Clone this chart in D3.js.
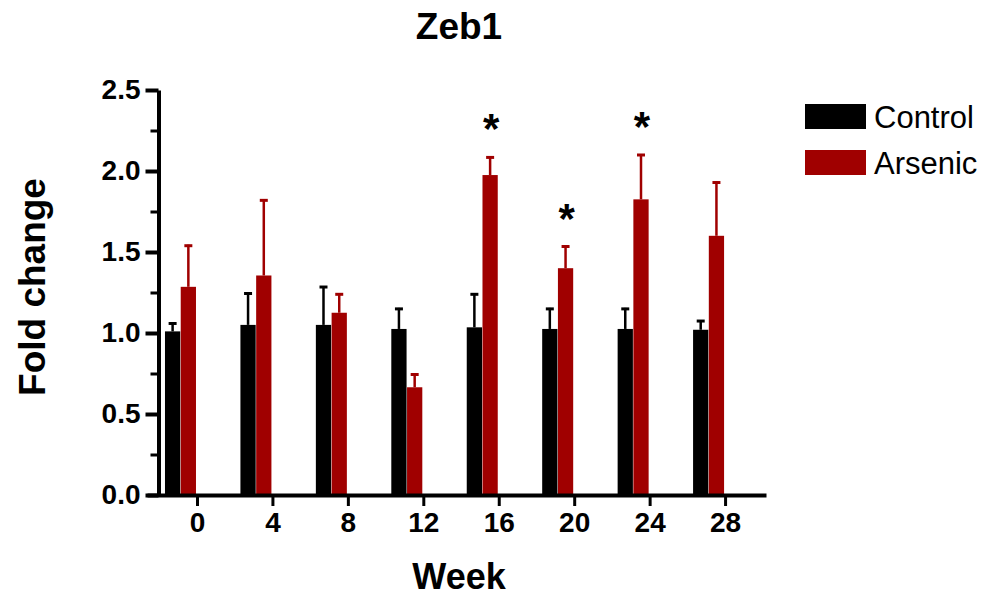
<!DOCTYPE html>
<html>
<head>
<meta charset="utf-8">
<script src="https://cdn.jsdelivr.net/npm/d3@7"></script>
<style>
  html, body { margin: 0; padding: 0; background: #fff; }
  svg { display: block; font-family: Arial, "Liberation Sans", sans-serif; }
</style>
</head>
<body>
<svg id="chart" width="989" height="599"></svg>
<script>
// Zeb1 expression over time, mean fold change with upper SEM whiskers
const weeks = [0, 4, 8, 12, 16, 20, 24, 28];
const seriesNames = ["Control", "Arsenic"];
const controlMean = [1.01, 1.05, 1.05, 1.025, 1.035, 1.025, 1.025, 1.02];
const controlErr  = [0.055, 0.20, 0.24, 0.13, 0.21, 0.13, 0.13, 0.06];
const arsenicMean = [1.285, 1.355, 1.125, 0.665, 1.975, 1.40, 1.825, 1.60];
const arsenicErr  = [0.26, 0.47, 0.12, 0.085, 0.115, 0.14, 0.28, 0.335];
const significant = [false, false, false, false, true, true, true, false];
const yTicks = [0, 0.5, 1.0, 1.5, 2.0, 2.5];
const yMinorTicks = [0.25, 0.75, 1.25, 1.75, 2.25];

const colors = { Control: "#000000", Arsenic: "#a00000" };

const svg = d3.select("#chart");

const x = d3.scaleLinear().domain([-2.65, 30.17]).range([147, 766]);
const y = d3.scaleLinear().domain([0, 2.5]).range([495, 90]);
// bars sit to the left of each week tick
const sub = d3.scaleBand().domain(seriesNames).range([-32, -1]).paddingInner(0.03);

const rows = weeks.map((w, i) => ({
  week: w,
  sig: significant[i],
  values: [
    { name: "Control", mean: controlMean[i], err: controlErr[i] },
    { name: "Arsenic", mean: arsenicMean[i], err: arsenicErr[i] }
  ]
}));

// bars
const groups = svg.append("g").selectAll("g").data(rows).join("g")
  .attr("transform", d => `translate(${x(d.week)},0)`);

groups.selectAll("rect").data(d => d.values).join("rect")
  .attr("x", d => sub(d.name))
  .attr("width", sub.bandwidth())
  .attr("y", d => y(d.mean))
  .attr("height", d => y(0) - y(d.mean))
  .attr("fill", d => colors[d.name]);

// error whiskers (upper only)
groups.selectAll("line.whisker").data(d => d.values).join("line")
  .attr("class", "whisker")
  .attr("x1", d => sub(d.name) + sub.bandwidth() / 2)
  .attr("x2", d => sub(d.name) + sub.bandwidth() / 2)
  .attr("y1", d => y(d.mean))
  .attr("y2", d => y(d.mean + d.err))
  .attr("stroke", d => colors[d.name])
  .attr("stroke-width", 2.5);

groups.selectAll("line.cap").data(d => d.values).join("line")
  .attr("class", "cap")
  .attr("x1", d => sub(d.name) + sub.bandwidth() / 2 - 4)
  .attr("x2", d => sub(d.name) + sub.bandwidth() / 2 + 4)
  .attr("y1", d => y(d.mean + d.err) + 1)
  .attr("y2", d => y(d.mean + d.err) + 1)
  .attr("stroke", d => colors[d.name])
  .attr("stroke-width", 3);

// significance stars above the arsenic whisker
groups.filter(d => d.sig).append("text")
  .attr("x", d => sub("Arsenic") + sub.bandwidth() / 2 + 1)
  .attr("y", d => y(d.values[1].mean + d.values[1].err) - 13)
  .attr("text-anchor", "middle")
  .attr("font-size", 42)
  .attr("font-weight", "bold")
  .text("*");

// y axis
const yAxis = svg.append("g")
  .attr("transform", "translate(158.5,0)")
  .call(d3.axisLeft(y).tickValues(yTicks).tickFormat(d3.format(".1f")).tickSize(13).tickSizeOuter(0).tickPadding(5));
yAxis.select(".domain").attr("stroke-width", 4);
yAxis.selectAll(".tick line").attr("stroke-width", 4);
yAxis.selectAll(".tick text").attr("font-size", 28).attr("font-weight", "bold")
  .attr("font-family", "Arial, 'Liberation Sans', sans-serif").attr("fill", "#000");

const yMinor = svg.append("g")
  .attr("transform", "translate(158.5,0)")
  .call(d3.axisLeft(y).tickValues(yMinorTicks).tickFormat("").tickSize(8).tickSizeOuter(0));
yMinor.select(".domain").remove();
yMinor.selectAll(".tick line").attr("stroke-width", 3);

// x axis
const xAxis = svg.append("g")
  .attr("transform", "translate(0,495)")
  .call(d3.axisBottom(x).tickValues(weeks).tickSize(11).tickSizeOuter(0).tickPadding(6));
xAxis.select(".domain").attr("stroke-width", 4);
xAxis.selectAll(".tick line").attr("stroke-width", 3);
xAxis.selectAll(".tick text").attr("font-size", 28).attr("font-weight", "bold")
  .attr("font-family", "Arial, 'Liberation Sans', sans-serif").attr("fill", "#000");

// titles
svg.append("text")
  .attr("x", 459).attr("y", 39)
  .attr("text-anchor", "middle")
  .attr("font-size", 37).attr("font-weight", "bold")
  .text("Zeb1");

svg.append("text")
  .attr("x", 459).attr("y", 589)
  .attr("text-anchor", "middle")
  .attr("font-size", 36).attr("font-weight", "bold")
  .text("Week");

svg.append("text")
  .attr("transform", "translate(45,287) rotate(-90)")
  .attr("text-anchor", "middle")
  .attr("font-size", 37).attr("font-weight", "bold")
  .text("Fold change");

// legend
const legend = svg.append("g").selectAll("g").data(seriesNames).join("g")
  .attr("transform", (d, i) => `translate(805,${104 + i * 46})`);
legend.append("rect")
  .attr("width", 61).attr("height", 25)
  .attr("fill", d => colors[d]);
legend.append("text")
  .attr("x", 69).attr("y", 24)
  .attr("font-size", 31)
  .attr("fill", "#000")
  .text(d => d);
</script>
</body>
</html>
